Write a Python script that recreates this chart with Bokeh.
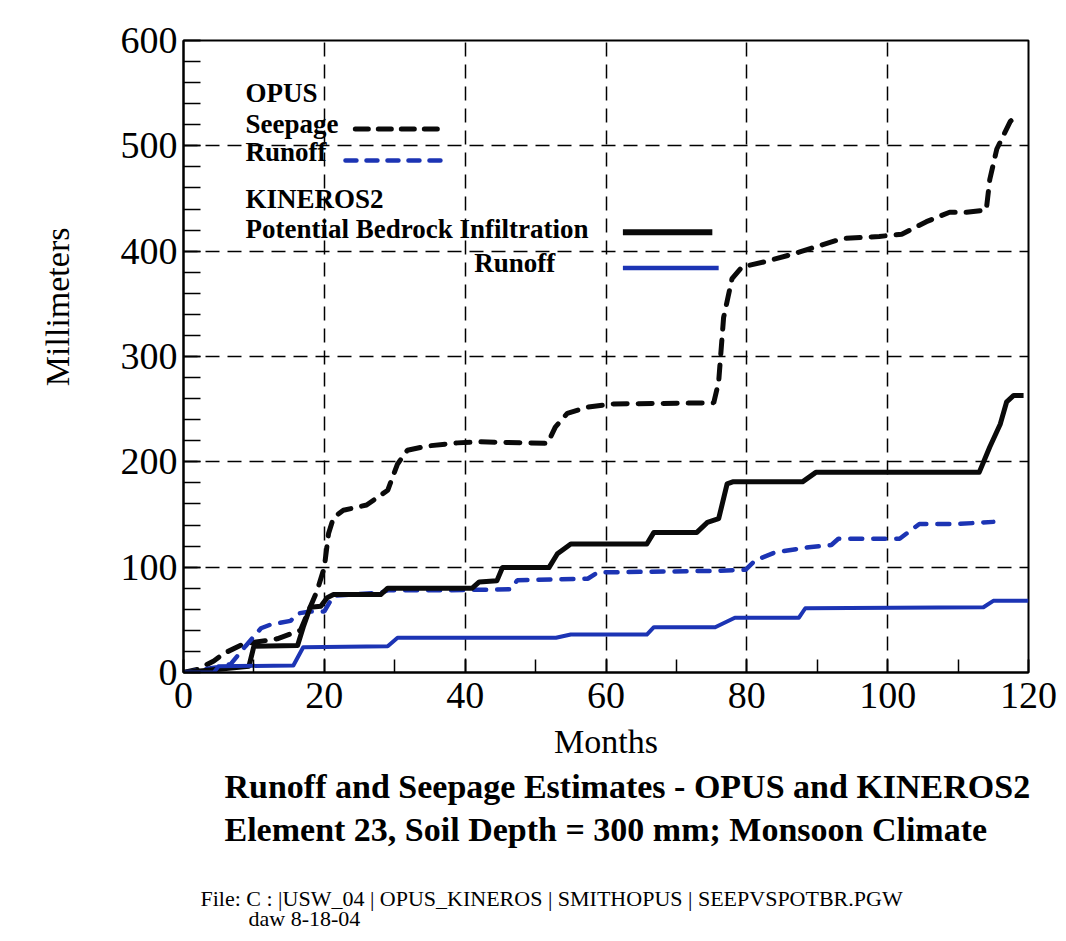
import math
from bokeh.plotting import figure
from bokeh.models import SingleIntervalTicker, Label, Range1d
from bokeh.layouts import column, row
from bokeh.core.properties import value
from bokeh.embed import file_html
from bokeh.resources import INLINE

# ---- data (months, millimeters) ----
seep_m = [0, 2, 4.3, 5.7, 8.5, 13.3, 16.6, 19, 20, 20.6, 21.3, 22.7, 26, 29, 30.4, 31.8, 34.6, 38.9,
          42.2, 51.7, 52.8, 54.5, 57.4, 61, 75.3, 76.0, 76.7, 77.9, 79.3, 82.6, 86.4, 90.7, 93.6,
          98.8, 102, 105.5, 108.8, 111.2, 114, 114.5, 115.5, 117.4, 118]
seep_v = [0, 3, 11, 18, 27, 32, 40, 78, 100, 132, 147, 154, 159, 173, 198, 211, 215, 218,
          219, 217.5, 233, 246, 252, 255, 256, 276, 337, 374, 385, 390, 397, 406, 412,
          414, 416, 428, 437, 437, 439, 468, 497, 523, 527]

opus_ro_m = [0, 4.8, 6.7, 8.8, 11, 12.4, 15.2, 16.2, 18, 20, 21.3, 28, 29, 37, 46.5, 47.4, 50.2,
             57.4, 58.8, 75.3, 79.8, 81.2, 84, 88.8, 92, 93, 96.4, 101.7, 104.5, 110, 115]
opus_ro_v = [0, 5, 8, 25, 42, 45.6, 49, 56, 58, 58, 73, 75.7, 78, 78, 79, 87.6, 88,
             89, 95, 96.5, 97.5, 106.5, 114, 119, 121, 127, 127, 127, 141, 141, 143]

infil_m = [0, 5, 9.3, 10, 16.2, 17, 18, 19.5, 20.4, 21.3, 28, 29, 41, 42, 44.5, 45.3, 51.9, 53.1,
           55, 65.8, 66.8, 72.9, 74.4, 76, 77.2, 78, 87.9, 89.8, 113, 114.5, 116, 116.9, 117.9, 119.3]
infil_v = [0, 3, 6, 25, 25.6, 43, 62, 63, 71, 74, 74, 80, 80, 86, 87, 99.6, 99.6, 112.7,
           122, 122, 133, 133, 142.5, 146, 179, 181, 181, 190, 190, 214, 236, 257, 263, 263]

kin_ro_m = [0, 4.3, 5, 15.6, 17, 29, 30.4, 52.9, 55, 65.8, 66.8, 75.5, 78.3, 87.4, 88.3, 113.6, 115, 120]
kin_ro_v = [0, 0, 6, 6.6, 24, 25, 33, 33, 36, 36, 43, 43, 52, 52, 61, 62, 68, 68]

title1 = "Runoff and Seepage Estimates - OPUS and KINEROS2"
title2 = "Element 23, Soil Depth = 300 mm; Monsoon Climate"
file1 = "File: C : |USW_04 | OPUS_KINEROS | SMITHOPUS | SEEPVSPOTBR.PGW"
file2 = "daw 8-18-04"
y_title = "Millimeters"
x_title = "Months"

BLUE = "#1c34b4"
BLACK = "#0a0a0a"
FONT = "Liberation Serif"

TOP_H = 764      # height of the chart row
LEFT_W = 100     # width of the strip holding the y-axis title

def blank(w, h, yr):
    f = figure(width=w, height=h, x_range=Range1d(0, w), y_range=Range1d(*yr),
               output_backend="svg", toolbar_location=None,
               x_axis_type=None, y_axis_type=None, min_border=0)
    f.outline_line_color = None
    f.grid.visible = False
    f.background_fill_color = "white"
    f.border_fill_color = "white"
    return f

# ---- main chart ----
p = figure(width=1066 - LEFT_W, height=TOP_H, x_range=(0, 120), y_range=(0, 600),
           output_backend="svg", toolbar_location=None,
           min_border_left=183 - LEFT_W, min_border_right=38, min_border_top=40,
           min_border_bottom=TOP_H - 672)
p.background_fill_color = "white"
p.border_fill_color = "white"
p.outline_line_color = "black"
p.outline_line_width = 2

p.xaxis.ticker = SingleIntervalTicker(interval=20, num_minor_ticks=2)
p.yaxis.ticker = SingleIntervalTicker(interval=100, num_minor_ticks=5)
for ax in (p.xaxis[0], p.yaxis[0]):
    ax.axis_line_width = 2
    ax.axis_line_color = "black"
    ax.major_tick_out = 0
    ax.minor_tick_out = 0
    ax.major_tick_line_width = 1.5
    ax.minor_tick_line_width = 1.5
    ax.major_label_text_font = FONT
    ax.major_label_text_font_size = "38px"
    ax.major_label_text_color = "black"
    ax.axis_label_text_font = FONT
    ax.axis_label_text_font_size = "34px"
    ax.axis_label_text_font_style = "normal"
    ax.axis_label_text_color = "black"
p.yaxis.major_tick_in = 17
p.yaxis.minor_tick_in = 17
p.xaxis.major_tick_in = 13
p.xaxis.minor_tick_in = 13
p.xaxis.axis_label = x_title
p.yaxis.major_label_standoff = 6
p.xaxis.major_label_standoff = 10
p.xaxis.axis_label_standoff = 12

for g in (p.xgrid[0], p.ygrid[0]):
    g.grid_line_color = "black"
    g.grid_line_dash = "14 8"
    g.grid_line_width = 1.5

p.line(seep_m, seep_v, line_color=BLACK, line_width=5, line_dash="14 11", line_cap="round")
p.line(opus_ro_m, opus_ro_v, line_color=BLUE, line_width=4.5, line_dash="12 11", line_cap="round")
p.line(infil_m, infil_v, line_color=BLACK, line_width=5, line_join="round")
p.line(kin_ro_m, kin_ro_v, line_color=BLUE, line_width=4, line_join="round")

# legend, hand-placed as in the original
def txt(x, y, s, align="left"):
    p.add_layout(Label(x=x, y=y, text=s, text_font=FONT, text_font_size="27px",
                       text_font_style="bold", text_align=align, text_baseline="middle",
                       text_color="black"))

txt(8.8, 550, "OPUS")
txt(8.8, 521, "Seepage")
txt(8.8, 494, "Runoff")
txt(8.8, 450, "KINEROS2")
txt(8.8, 421, "Potential Bedrock Infiltration")
txt(52.8, 389, "Runoff", align="right")
p.line([24.4, 36.1], [516, 516], line_color=BLACK, line_width=5, line_dash="13 10", line_cap="round")
p.line([23.0, 37.6], [486, 486], line_color=BLUE, line_width=4.5, line_dash="11 10", line_cap="round")
p.line([62.4, 75.1], [418, 418], line_color=BLACK, line_width=6)
p.line([62.4, 76.0], [384, 384], line_color=BLUE, line_width=4.5)

# ---- y-axis title strip (pixel coordinates, y downward) ----
pl = blank(LEFT_W, TOP_H, (TOP_H, 0))
pl.text(x=[57], y=[322], text=[y_title], angle=math.pi / 2, text_font=value(FONT),
        text_font_size="34px", text_align="center", text_baseline="middle", text_color="black")

# ---- caption strip below (page pixel coordinates) ----
pb = blank(1066, 941 - TOP_H, (941, TOP_H))
pb.text(x=[224, 224], y=[786, 829], text=[title1, title2], text_font=value(FONT),
        text_font_size="34px", text_font_style="bold", text_baseline="middle", text_color="black")
pb.text(x=[200, 248], y=[898, 918], text=[file1, file2], text_font=value(FONT),
        text_font_size="22px", text_baseline="middle", text_color="black")

layout = column(row(pl, p), pb)
open("out.html", "w").write(file_html(layout, INLINE))
